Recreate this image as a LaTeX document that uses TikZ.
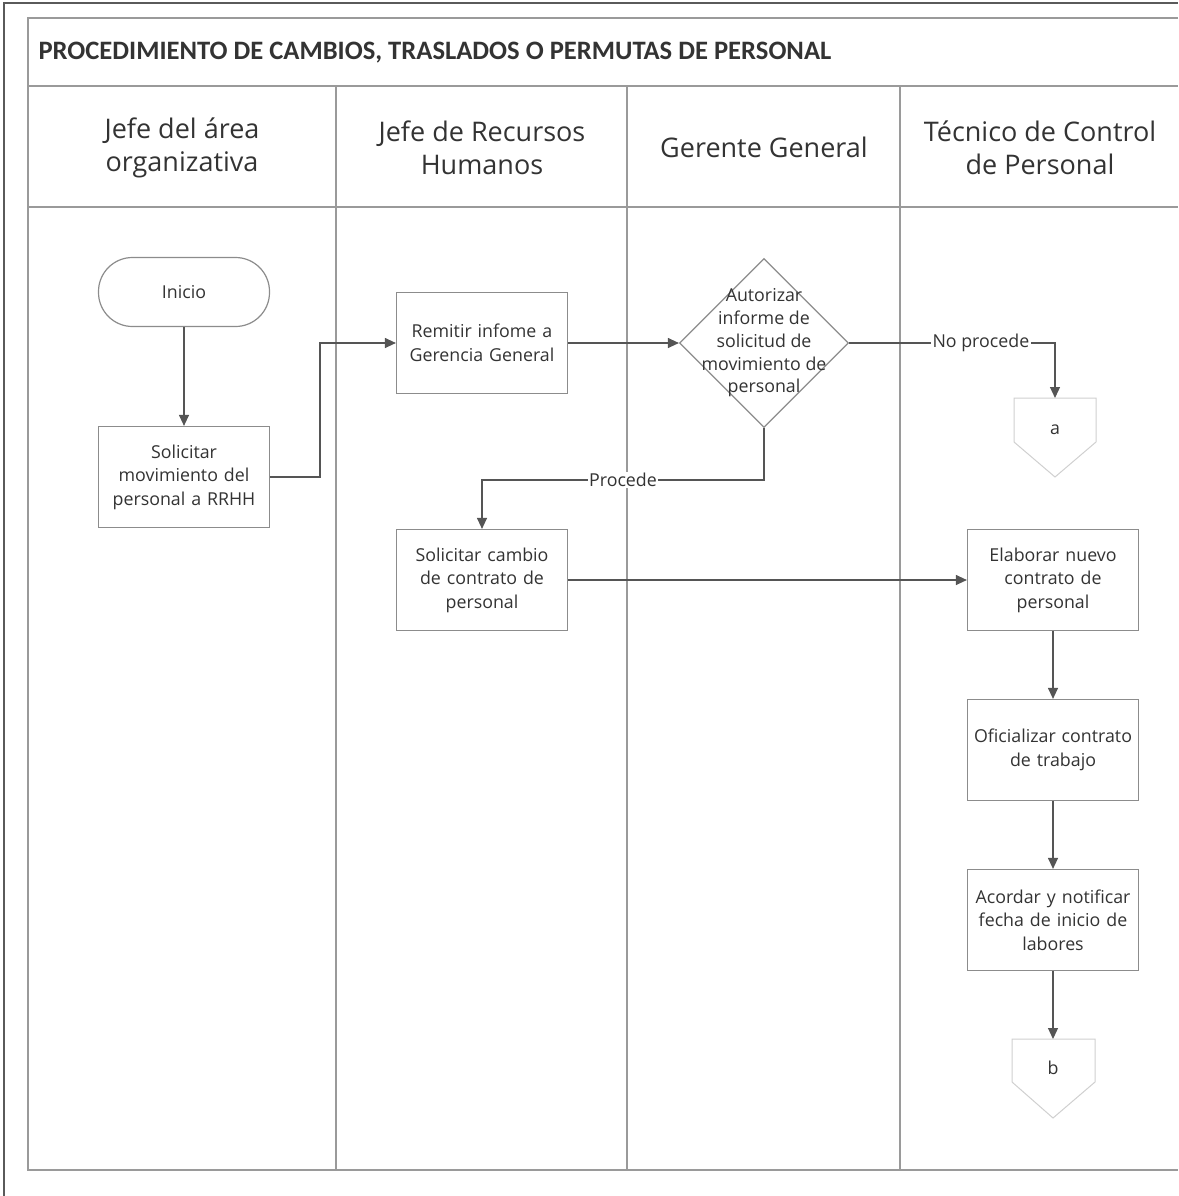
\documentclass[tikz,border=0pt]{standalone}
\usepackage{fontspec}
\setmainfont{Open Sans}
\newfontfamily\titlefont{Carlito}
\usetikzlibrary{shapes.geometric,arrows.meta}

\definecolor{frameline}{HTML}{5A5A5A}
\definecolor{laneline}{HTML}{9A9A9A}
\definecolor{boxline}{HTML}{8C8C8C}
\definecolor{flowline}{HTML}{555555}
\definecolor{inktext}{HTML}{333333}
\definecolor{pageline}{HTML}{D0D0D0}

\tikzset{
  x=1pt, y=-1pt,
  every node/.style={text=inktext},
  lanehead/.style={font=\fontsize{27}{33}\selectfont, align=center},
  stepbox/.style={draw=boxline, line width=1.2pt, fill=white,
    minimum width=171pt, minimum height=101pt, inner sep=2pt,
    align=center, text width=167pt, font=\fontsize{17.8}{23.5}\selectfont},
  startbox/.style={draw=boxline, line width=1.2pt, fill=white, rounded corners=34pt,
    minimum width=171pt, minimum height=69pt, font=\fontsize{17.8}{23.5}\selectfont},
  decision/.style={diamond, draw=boxline, line width=1.2pt, fill=white,
    minimum width=169pt, minimum height=169pt, inner sep=0pt},
  decisiontext/.style={align=center, inner sep=0pt, font=\fontsize{17.8}{22.8}\selectfont},
  flow/.style={draw=flowline, line width=1.2pt,
    -{Triangle[width=10pt,length=11pt]}},
  tag/.style={fill=white, inner sep=1.5pt, font=\fontsize{17.8}{20}\selectfont},
  offpage/.style={draw=pageline, line width=1pt, fill=white},
}

\begin{document}
\begin{tikzpicture}
\useasboundingbox (0,0) rectangle (1178,1196);

% outer page frame
\draw[frameline, line width=2pt] (4,1196) -- (4,3) -- (1178,3);

% swimlane table
\draw[laneline, line width=1.2pt] (1178,18) -- (28,18) -- (28,1170) -- (1178,1170);
\draw[laneline, line width=1.4pt] (28,86) -- (1178,86);
\draw[laneline, line width=1.8pt] (28,207) -- (1178,207);
\foreach \lx in {336,627,900}
  \draw[laneline, line width=1.2pt] (\lx,86) -- (\lx,1170);

% title and lane headers
\node[anchor=west, font=\titlefont\bfseries\fontsize{26.6}{30}\selectfont] (title)
  at (35,53) {PROCEDIMIENTO DE CAMBIOS, TRASLADOS O PERMUTAS DE PERSONAL};
\node[lanehead] (h1) at (182,148) {Jefe del área\\organizativa};
\node[lanehead] (h2) at (482,148) {Jefe de Recursos\\Humanos};
\node[lanehead] (h3) at (764,147) {Gerente General};
\node[lanehead] (h4) at (1040,148) {Técnico de Control\\de Personal};

% process steps
\node[startbox] (inicio) at (184,292) {Inicio};
\node[stepbox] (solmov) at (184,477) {Solicitar\\movimiento del\\personal a RRHH};
\node[stepbox] (remitir) at (482,343) {Remitir infome a\\Gerencia General};
\node[decision] (autorizar) at (764,343) {};
\node[decisiontext] (autorizar-text) at (autorizar.center)
  {Autorizar\\informe de\\solicitud de\\movimiento de\\personal};
\node[stepbox] (solcambio) at (482,580) {Solicitar cambio\\de contrato de\\personal};
\node[stepbox] (elaborar) at (1053,580) {Elaborar nuevo\\contrato de\\personal};
\node[stepbox] (oficializar) at (1053,750) {Oficializar contrato\\de trabajo};
\node[stepbox] (acordar) at (1053,920) {Acordar y notificar\\fecha de inicio de\\labores};

% off-page connectors
\draw[offpage] (1014,398) -- (1096,398) -- (1096,442) -- (1055,477) -- (1014,442) -- cycle;
\node[font=\fontsize{17.8}{20}\selectfont] (cona) at (1055,430) {a};
\coordinate (cona-top) at (1055,398);
\draw[offpage] (1012,1039) -- (1095,1039) -- (1095,1082) -- (1053,1118) -- (1012,1082) -- cycle;
\node[font=\fontsize{17.8}{20}\selectfont] (conb) at (1053,1068) {b};
\coordinate (conb-top) at (1053,1039);

% connectors
\draw[flow] (inicio) -- (solmov);
\draw[flow] (solmov.east) -- (320,477) -- (320,343) -- (remitir.west);
\draw[flow] (remitir.east) -- (autorizar.west);
\draw[flow] (autorizar.east) -- (1055,343)
  node[tag, pos=0.64] (noproc) {No procede} -- (cona-top);
\draw[flow] (autorizar.south) -- (764,480) -- (482,480)
  node[tag, pos=0.5] (proc) {Procede} -- (solcambio.north);
\draw[flow] (solcambio.east) -- (elaborar.west);
\draw[flow] (elaborar) -- (oficializar);
\draw[flow] (oficializar) -- (acordar);
\draw[flow] (acordar.south) -- (conb-top);
\end{tikzpicture}
\end{document}
